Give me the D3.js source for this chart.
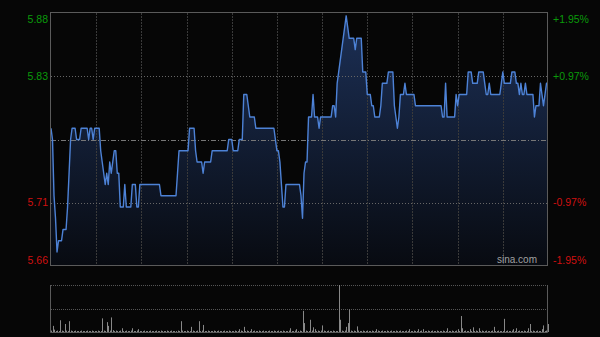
<!DOCTYPE html>
<html>
<head>
<meta charset="utf-8">
<script src="https://cdn.jsdelivr.net/npm/d3@7"></script>
<style>
  html, body { margin: 0; padding: 0; background: #060606; }
  svg { display: block; }
  text { font-family: Arial, "Liberation Sans", sans-serif; }
</style>
</head>
<body>
<div class="chartDIV"></div>
<script>
// intraday minute chart, 9:30-12:00 + 13:00-16:00 = 330 minutes
var prevClose = 5.77;
var pctLevels = [0.0195, 0.00975, -0.00975, -0.0195];
var priceLabels = ["5.88", "5.83", "5.71", "5.66"];
var pctLabels = ["+1.95%", "+0.97%", "-0.97%", "-1.95%"];
var timeTicks = [30, 60, 90, 120, 150, 180, 210, 240, 270, 300];

// vertices of the price line (minute index, price)
var minutes = [0, 1, 2, 3, 4, 5, 7, 8, 10, 11, 12, 13, 14, 16, 17, 19, 20, 24, 25, 26, 27, 28, 29, 32,
    33, 34, 35, 36, 37, 38, 39, 40, 41, 42, 43, 44, 45, 46, 48, 49, 50, 53, 54, 56, 57, 58, 59, 72,
    73, 83, 84, 85, 91, 92, 95, 96, 97, 100, 101, 102, 106, 107, 117, 118, 120, 121, 124, 125, 127,
    128, 130, 131, 132, 135, 136, 148, 149, 150, 151, 152, 153, 154, 155, 156, 165, 166, 167, 168,
    169, 170, 171, 173, 174, 175, 177, 178, 179, 186, 187, 188, 189, 190, 191, 192, 193, 194, 195,
    196, 197, 198, 201, 202, 203, 206, 207, 209, 210, 212, 213, 214, 215, 218, 219, 220, 223, 224,
    227, 228, 229, 230, 231, 232, 234, 235, 236, 241, 242, 259, 260, 261, 262, 263, 268, 269, 270,
    271, 276, 277, 279, 280, 283, 284, 287, 288, 289, 290, 291, 292, 298, 299, 300, 301, 305, 306,
    308, 309, 310, 311, 312, 313, 314, 315, 316, 320, 321, 322, 324, 325, 326, 327, 328, 329, 330];
var prices = [5.78, 5.77, 5.72, 5.70, 5.67, 5.68, 5.68, 5.69, 5.69, 5.71, 5.74, 5.77, 5.78, 5.78, 5.77, 5.77, 5.78, 5.78, 5.77, 5.78, 5.78, 5.77, 5.78, 5.78,
    5.76, 5.75, 5.74, 5.73, 5.74, 5.73, 5.75, 5.74, 5.75, 5.76, 5.76, 5.74, 5.74, 5.71, 5.71, 5.73, 5.71, 5.71, 5.73, 5.73, 5.71, 5.71, 5.73, 5.73,
    5.72, 5.72, 5.74, 5.76, 5.76, 5.78, 5.78, 5.76, 5.75, 5.75, 5.74, 5.75, 5.75, 5.76, 5.76, 5.77, 5.77, 5.76, 5.76, 5.77, 5.77,
    5.81, 5.81, 5.80, 5.79, 5.79, 5.78, 5.78, 5.77, 5.76, 5.76, 5.75, 5.73, 5.71, 5.71, 5.73, 5.73, 5.72, 5.70, 5.74,
    5.75, 5.75, 5.79, 5.79, 5.81, 5.79, 5.79, 5.78, 5.79, 5.79, 5.80, 5.80, 5.79, 5.82, 5.83, 5.84, 5.85, 5.86, 5.87,
    5.88, 5.87, 5.86, 5.86, 5.85, 5.86, 5.86, 5.83, 5.83, 5.81, 5.81, 5.80, 5.80, 5.79, 5.79, 5.80, 5.82, 5.82, 5.83,
    5.83, 5.80, 5.79, 5.78, 5.79, 5.81, 5.81, 5.82, 5.81, 5.81, 5.80, 5.80, 5.79, 5.79, 5.82, 5.79, 5.79, 5.81, 5.80,
    5.81, 5.81, 5.83, 5.83, 5.82, 5.82, 5.83, 5.83, 5.82, 5.81, 5.81, 5.82, 5.81, 5.81, 5.82, 5.83, 5.82, 5.82, 5.83,
    5.83, 5.82, 5.82, 5.81, 5.82, 5.81, 5.81, 5.82, 5.81, 5.81, 5.79, 5.80, 5.80, 5.82, 5.81, 5.80, 5.81, 5.82, 5.82];

// volume per minute (relative units, 100 = tallest bar)
var volumes = [
    3, 13, 5, 2, 3, 2, 25, 3, 2, 17, 3, 2, 23, 3, 2, 2, 3, 2, 2, 2, 3, 2, 2, 2, 3, 2, 2, 3, 2, 2,
    2, 3, 2, 2, 29, 3, 2, 21, 13, 3, 31, 4, 2, 3, 2, 2, 3, 8, 2, 2, 3, 2, 2, 3, 8, 2, 2, 3, 6, 2,
    2, 2, 3, 2, 2, 2, 3, 2, 2, 2, 3, 2, 2, 3, 2, 2, 2, 3, 2, 2, 3, 2, 2, 2, 3, 2, 23, 3, 2, 2,
    3, 2, 2, 11, 3, 2, 2, 3, 23, 2, 3, 15, 2, 2, 3, 2, 2, 2, 3, 2, 2, 3, 2, 2, 2, 3, 2, 2, 3, 2,
    2, 2, 3, 2, 2, 6, 3, 2, 11, 2, 3, 2, 2, 6, 2, 3, 2, 2, 3, 2, 2, 3, 2, 2, 2, 3, 2, 2, 3, 2,
    2, 3, 2, 2, 3, 2, 2, 2, 3, 8, 2, 2, 3, 6, 2, 3, 2, 45, 19, 3, 2, 2, 26, 3, 10, 6, 2, 3, 2, 3,
    14, 3, 2, 2, 3, 2, 2, 3, 2, 2, 2, 100, 26, 3, 2, 3, 11, 19, 48, 3, 2, 3, 2, 12, 3, 2, 2, 3, 2, 2,
    3, 2, 2, 3, 2, 2, 6, 3, 2, 2, 3, 2, 2, 3, 2, 2, 3, 2, 2, 3, 2, 2, 3, 2, 2, 2, 3, 2, 6, 2,
    2, 3, 2, 2, 6, 2, 3, 6, 2, 2, 3, 2, 2, 3, 2, 2, 3, 2, 2, 2, 3, 2, 2, 8, 2, 2, 3, 2, 2, 3,
    6, 2, 34, 8, 2, 3, 2, 2, 6, 2, 10, 2, 3, 2, 8, 2, 3, 2, 2, 3, 2, 2, 2, 3, 11, 2, 2, 3, 2, 2,
    2, 28, 2, 3, 2, 2, 3, 6, 2, 8, 2, 3, 2, 2, 3, 2, 2, 8, 17, 2, 3, 2, 2, 3, 2, 2, 6, 14, 2, 3,
    17];

var width = 600,
    height = 337,
    padLeft = 51,
    padRight = 548,
    padTop = 13,
    padBottom = 266,
    volTop = 285,
    volBottom = 332;

var svg = d3.select(".chartDIV").
    append("svg").
    attr("width", width).
    attr("height", height);

svg.append("rect").attr("width", width).attr("height", height).attr("fill", "#060606");

var x = d3.scaleLinear().domain([0, 330]).range([padLeft, padRight]),
    y = d3.scaleLinear().
        domain([prevClose * (1 + pctLevels[3]), prevClose * (1 + pctLevels[0])]).
        range([padBottom, padTop]),
    yv = d3.scaleLinear().domain([0, 100]).range([volBottom, volTop]);

var lineData = minutes.map(function(m, i) { return {m: m, p: prices[i]}; });

var defs = svg.append("defs");
var grad = defs.append("linearGradient").
    attr("id", "fillGrad").
    attr("gradientUnits", "userSpaceOnUse").
    attr("x1", 0).attr("y1", padTop).attr("x2", 0).attr("y2", padBottom);
grad.append("stop").attr("offset", "0%").attr("stop-color", "#1f3560").attr("stop-opacity", 0.9);
grad.append("stop").attr("offset", "100%").attr("stop-color", "#080b12").attr("stop-opacity", 0.9);

// filled area under the price line
var area = d3.area().
    x(function(d) { return x(d.m); }).
    y0(padBottom).
    y1(function(d) { return y(d.p); });
svg.append("path").datum(lineData).attr("d", area).attr("fill", "url(#fillGrad)");

// grid
var g = svg.append("g");
g.selectAll(".vgrid").
    data(timeTicks).
    enter().
    append("line").
    attr("x1", function(d) { return Math.round(x(d)) + 0.5; }).
    attr("x2", function(d) { return Math.round(x(d)) + 0.5; }).
    attr("y1", padTop).attr("y2", padBottom).
    attr("stroke", "#3a3a3a").
    attr("stroke-dasharray", "2,1");

g.selectAll(".hgrid").
    data([pctLevels[1], pctLevels[2]]).
    enter().
    append("line").
    attr("x1", padLeft).attr("x2", padRight).
    attr("y1", function(d) { return Math.round(y(prevClose * (1 + d))) + 0.5; }).
    attr("y2", function(d) { return Math.round(y(prevClose * (1 + d))) + 0.5; }).
    attr("stroke", "#666").
    attr("stroke-dasharray", "1,2");

g.append("line").
    attr("x1", padLeft).attr("x2", padRight).
    attr("y1", Math.round(y(prevClose)) + 0.5).attr("y2", Math.round(y(prevClose)) + 0.5).
    attr("stroke", "#777").
    attr("stroke-dasharray", "5,2,1,2");

// price line
var line = d3.line().
    x(function(d) { return x(d.m); }).
    y(function(d) { return y(d.p); });
svg.append("path").
    datum(lineData).
    attr("d", line).
    attr("fill", "none").
    attr("stroke", "#4d82d6").
    attr("stroke-width", 1.4).
    attr("stroke-linejoin", "round");

// frame
svg.append("rect").
    attr("x", padLeft - 0.5).attr("y", padTop - 0.5).
    attr("width", padRight - padLeft).attr("height", padBottom - padTop).
    attr("fill", "none").
    attr("stroke", "#5a5a5a");

// labels
var labelShift = [6, 0, 0, -6];
pctLevels.forEach(function(d, i) {
    var ly = y(prevClose * (1 + d)) + labelShift[i];
    var col = d > 0 ? "#0a9a0a" : "#d01010";
    svg.append("text").
        attr("x", padLeft - 3).attr("y", ly).
        attr("dy", "0.35em").
        attr("text-anchor", "end").
        style("font-size", "10.5px").
        attr("fill", col).
        text(priceLabels[i]);
    svg.append("text").
        attr("x", padRight + 5).attr("y", ly).
        attr("dy", "0.35em").
        style("font-size", "10.5px").
        attr("fill", col).
        text(pctLabels[i]);
});

svg.append("text").
    attr("x", padRight - 11).attr("y", padBottom - 3).
    attr("text-anchor", "end").
    style("font-size", "10px").
    attr("fill", "#a0a0a0").
    text("sina.com");

// volume panel
var vg = svg.append("g");
vg.selectAll(".vline").
    data([volTop, (volTop + volBottom) / 2]).
    enter().
    append("line").
    attr("x1", padLeft).attr("x2", padRight).
    attr("y1", function(d) { return Math.round(d) + 0.5; }).
    attr("y2", function(d) { return Math.round(d) + 0.5; }).
    attr("stroke", "#555").
    attr("stroke-dasharray", "1,1");

vg.selectAll(".bar").
    data(volumes).
    enter().
    append("line").
    attr("x1", function(d, i) { return Math.round(x(i)) + 0.5; }).
    attr("x2", function(d, i) { return Math.round(x(i)) + 0.5; }).
    attr("y1", volBottom).
    attr("y2", function(d) { return yv(d); }).
    attr("stroke", "#888");

vg.append("path").
    attr("d", "M" + (padLeft - 0.5) + "," + volTop + "V" + (volBottom + 0.5) + "H" + (padRight - 0.5) + "V" + volTop).
    attr("fill", "none").
    attr("stroke", "#5a5a5a");
</script>
</body>
</html>
